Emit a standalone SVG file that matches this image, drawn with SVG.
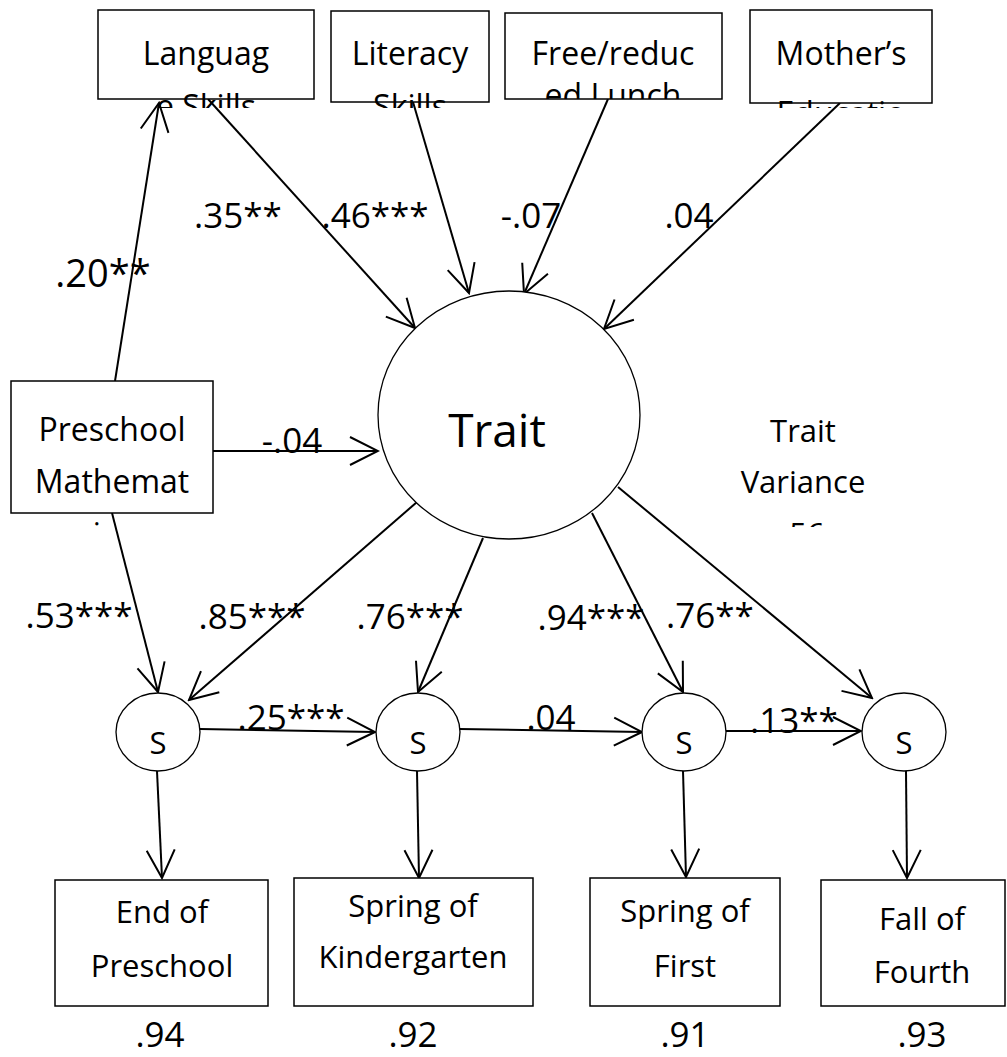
<svg xmlns="http://www.w3.org/2000/svg" width="1007" height="1057" viewBox="0 0 1007 1057">
<style>
.box{fill:#fff;stroke:#000;stroke-width:1.5}
.ell{fill:#fff;stroke:#000;stroke-width:1.3}
.t{font-family:"Open Sans","Noto Sans",sans-serif;fill:#000;text-anchor:middle}
.lb{font-size:32px}
.bl{font-size:31px}
.cf{font-size:35px}
.conn line{stroke:#000;stroke-width:2;marker-end:url(#arr)}
</style>
<defs>
<marker id="arr" markerUnits="userSpaceOnUse" markerWidth="32" markerHeight="32" viewBox="0 0 32 32" refX="30" refY="16" orient="auto">
<path d="M2,2 L30,16 L2,30" fill="none" stroke="#000" stroke-width="2"/>
</marker>
<clipPath id="cLang"><rect x="0" y="0" width="1007" height="108"/></clipPath>
<clipPath id="cFree"><rect x="0" y="0" width="1007" height="99"/></clipPath>
<clipPath id="cPre"><rect x="0" y="0" width="1007" height="526"/></clipPath>
<clipPath id="cVar"><rect x="0" y="0" width="1007" height="527"/></clipPath>
<clipPath id="cFall"><rect x="0" y="0" width="1007" height="1013"/></clipPath>
</defs>
<rect width="1007" height="1057" fill="#fff"/>

<g id="connectors" class="conn">
<line x1="115" y1="381" x2="159" y2="103"/>
<line x1="208" y1="99" x2="415" y2="328"/>
<line x1="413" y1="102" x2="469" y2="293"/>
<line x1="608" y1="99" x2="524" y2="294"/>
<line x1="840" y1="103" x2="604" y2="329"/>
<line x1="213" y1="451" x2="378" y2="451"/>
<line x1="112" y1="513" x2="158" y2="692"/>
<line x1="417" y1="502" x2="189" y2="700"/>
<line x1="483" y1="538" x2="418" y2="692"/>
<line x1="592" y1="513" x2="683" y2="692"/>
<line x1="618" y1="487" x2="872" y2="698"/>
<line x1="200" y1="729" x2="375" y2="732"/>
<line x1="459" y1="729" x2="642" y2="732"/>
<line x1="726" y1="731" x2="861" y2="731"/>
<line x1="157" y1="771" x2="162" y2="878"/>
<line x1="417" y1="771" x2="419" y2="878"/>
<line x1="683" y1="771" x2="686" y2="877"/>
<line x1="906" y1="771" x2="907" y2="878"/>
</g>

<g id="language">
<rect class="box" x="98" y="10" width="216" height="89"/>
<text class="t lb" x="206" y="65">Languag</text>
<text class="t lb" x="206" y="118" clip-path="url(#cLang)">e Skills</text>
</g>
<g id="literacy">
<rect class="box" x="331" y="11" width="158" height="91"/>
<text class="t lb" x="410" y="65">Literacy</text>
<text class="t lb" x="410" y="118" clip-path="url(#cLang)">Skills</text>
</g>
<g id="lunch">
<rect class="box" x="505" y="13" width="217" height="86"/>
<text class="t lb" x="613" y="65">Free/reduc</text>
<text class="t lb" x="613" y="107" clip-path="url(#cFree)">ed Lunch</text>
</g>
<g id="mother">
<rect class="box" x="750" y="10" width="182" height="93"/>
<text class="t lb" x="841" y="65">Mother’s</text>
<text class="t lb" x="841" y="125" clip-path="url(#cLang)">Educatio</text>
</g>

<g id="preschool-math">
<rect class="box" x="11" y="381" width="202" height="132"/>
<text class="t lb" x="112" y="441">Preschool</text>
<text class="t lb" x="112" y="493">Mathemat</text>
<text class="t lb" x="112" y="546" clip-path="url(#cPre)">ics</text>
</g>

<g id="trait">
<ellipse class="ell" cx="509" cy="415" rx="131" ry="124"/>
<text class="t" x="497" y="447" font-size="46">Trait</text>
</g>

<g id="trait-variance">
<text class="t bl" x="803" y="442">Trait</text>
<text class="t bl" x="803" y="493">Variance</text>
<text class="t bl" x="803" y="545" clip-path="url(#cVar)">.56</text>
</g>

<g id="s1"><ellipse class="ell" cx="158" cy="732" rx="42" ry="39"/><text class="t" x="158" y="754" font-size="31">S</text></g>
<g id="s2"><ellipse class="ell" cx="418" cy="732" rx="42" ry="39"/><text class="t" x="418" y="754" font-size="31">S</text></g>
<g id="s3"><ellipse class="ell" cx="684" cy="732" rx="42" ry="39"/><text class="t" x="684" y="754" font-size="31">S</text></g>
<g id="s4"><ellipse class="ell" cx="904" cy="732" rx="42" ry="39"/><text class="t" x="904" y="754" font-size="31">S</text></g>

<g id="end-preschool">
<rect class="box" x="55" y="880" width="213" height="126"/>
<text class="t bl" x="162" y="923">End of</text>
<text class="t bl" x="162" y="977">Preschool</text>
</g>
<g id="spring-k">
<rect class="box" x="294" y="878" width="239" height="128"/>
<text class="t bl" x="413" y="917">Spring of</text>
<text class="t bl" x="413" y="968">Kindergarten</text>
</g>
<g id="spring-first">
<rect class="box" x="590" y="878" width="190" height="128"/>
<text class="t bl" x="685" y="922">Spring of</text>
<text class="t bl" x="685" y="977">First</text>
</g>
<g id="fall-fourth">
<rect class="box" x="821" y="880" width="184" height="126"/>
<text class="t bl" x="922" y="930">Fall of</text>
<text class="t bl" x="922" y="983">Fourth</text>
<text class="t bl" x="922" y="1036" clip-path="url(#cFall)">Grade</text>
</g>

<g id="labels">
<text class="t" x="103" y="287" font-size="38">.20**</text>
<text class="t cf" x="238" y="228">.35**</text>
<text class="t cf" x="375" y="228">.46***</text>
<text class="t cf" x="531" y="228">-.07</text>
<text class="t cf" x="689" y="228">.04</text>
<text class="t cf" x="292" y="453">-.04</text>
<text class="t cf" x="79" y="628">.53***</text>
<text class="t cf" x="252" y="629">.85***</text>
<text class="t cf" x="410" y="629">.76***</text>
<text class="t cf" x="591" y="630">.94***</text>
<text class="t cf" x="710" y="628">.76**</text>
<text class="t cf" x="291" y="730">.25***</text>
<text class="t cf" x="551" y="730">.04</text>
<text class="t cf" x="794" y="733">.13**</text>
<text class="t cf" x="160" y="1047">.94</text>
<text class="t cf" x="413" y="1047">.92</text>
<text class="t cf" x="685" y="1047">.91</text>
<text class="t cf" x="922" y="1047">.93</text>
</g>
</svg>
